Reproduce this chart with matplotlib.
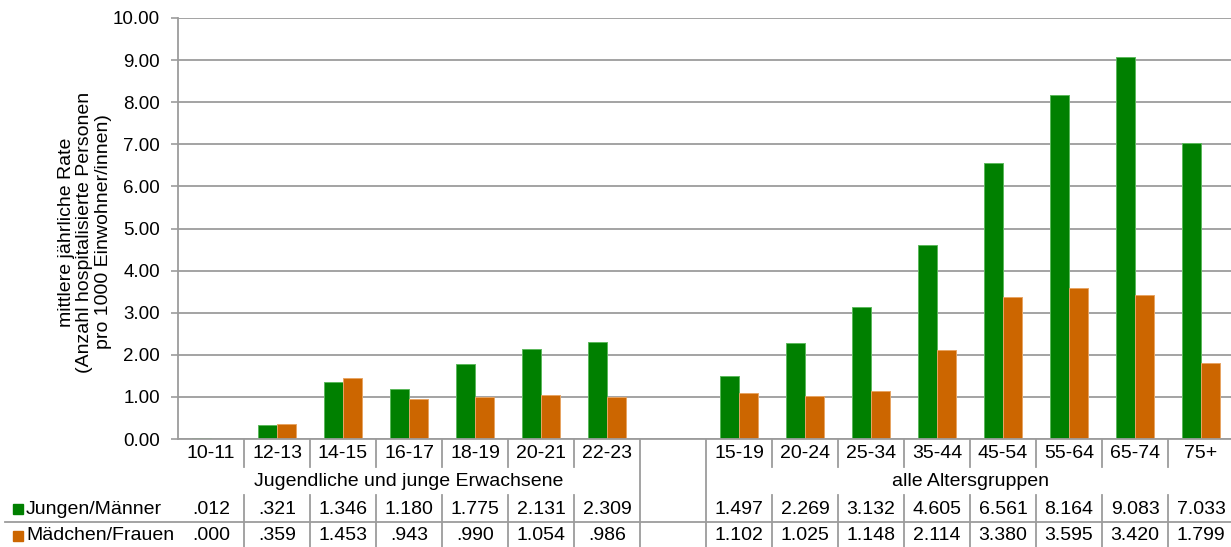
import numpy as np
import matplotlib.pyplot as plt
import matplotlib.transforms as mtransforms
from matplotlib.patches import Rectangle

# Altersgruppen: erste Gruppe Jugendliche, leere Spalte, dann alle Altersgruppen
categories = ['10-11', '12-13', '14-15', '16-17', '18-19', '20-21', '22-23', '',
              '15-19', '20-24', '25-34', '35-44', '45-54', '55-64', '65-74', '75+']
group_labels = ['Jugendliche und junge Erwachsene', 'alle Altersgruppen']
group_spans = [(0, 6), (8, 15)]
series_names = ['Jungen/Männer', 'Mädchen/Frauen']
maenner = [0.012, 0.321, 1.346, 1.180, 1.775, 2.131, 2.309, None,
           1.497, 2.269, 3.132, 4.605, 6.561, 8.164, 9.083, 7.033]
frauen = [0.000, 0.359, 1.453, 0.943, 0.990, 1.054, 0.986, None,
          1.102, 1.025, 1.148, 2.114, 3.380, 3.595, 3.420, 1.799]

GREEN = '#008000'
ORANGE = '#cc6600'
GRID = '#9c9c9c'
W, H = 1231, 547
TS = 14  # Tabellenschrift

plt.rcParams['font.family'] = ['Liberation Sans', 'DejaVu Sans']
plt.rcParams['font.size'] = 13.5

fig = plt.figure(figsize=(W / 100, H / 100), dpi=100)
ax = fig.add_axes([178 / W, 1 - 439 / H, (1234 - 178) / W, (439 - 18) / H])

x = np.arange(len(categories))
m = np.array([np.nan if v is None else v for v in maenner])
f = np.array([np.nan if v is None else v for v in frauen])
bw = 0.29
ax.bar(x - bw / 2, m, bw, color=GREEN, edgecolor='#5cb85c', linewidth=0.7, zorder=3)
ax.bar(x + bw / 2, f, bw, color=ORANGE, edgecolor='#e8a463', linewidth=0.7, zorder=3)

ax.set_xlim(-0.5, len(categories) - 0.5)
ax.set_ylim(0, 10)
ax.set_yticks(np.arange(0, 11, 1))
ax.set_yticklabels([f'{t:.2f}' for t in np.arange(0, 11, 1)])
ax.set_xticks([])
ax.yaxis.grid(True, color=GRID, linewidth=1.3, zorder=0)
ax.tick_params(axis='y', length=5, width=1.2, color=GRID, pad=8)
for s in ['top', 'right']:
    ax.spines[s].set_visible(False)
for s in ['left', 'bottom']:
    ax.spines[s].set_color(GRID)
    ax.spines[s].set_linewidth(1.3)
ax.spines['bottom'].set_zorder(4)

fig.text(85 / W, 1 - 232 / H,
         'mittlere jährliche Rate\n(Anzahl hospitalisierte Personen\npro 1000 Einwohner/innen)',
         rotation=90, ha='center', va='center', multialignment='center',
         linespacing=1.15, fontsize=TS)

# Datentabelle unter der Achse
tr = mtransforms.blended_transform_factory(ax.transData, fig.transFigure)


def fy(py):
    return 1 - py / H


def vline(xd, y0, y1):
    ax.plot([xd, xd], [fy(y0), fy(y1)], transform=tr, color=GRID,
            linewidth=1.3, clip_on=False)


for i, c in enumerate(categories):
    ax.text(i, fy(453), c, transform=tr, ha='center', va='center', fontsize=TS)
    if maenner[i] is not None:
        for val, py in [(maenner[i], 509), (frauen[i], 536)]:
            s = f'{val:.3f}'
            if val < 1:
                s = s.lstrip('0')
            ax.text(i, fy(py), s, transform=tr, ha='center', va='center', fontsize=TS)

for lbl, (a, b) in zip(group_labels, group_spans):
    ax.text((a + b) / 2, fy(481), lbl, transform=tr, ha='center', va='center',
            fontsize=TS)

for k in range(len(categories) - 1):
    xb = k + 0.5
    if k in (6, 7):
        vline(xb, 439, 547)
    else:
        vline(xb, 439, 467)
        vline(xb, 495, 547)

fig.add_artist(plt.Line2D([5 / W, 1], [fy(522), fy(522)], color=GRID,
                          linewidth=1.3, transform=fig.transFigure))

for name, col, py in [(series_names[0], GREEN, 509), (series_names[1], ORANGE, 536)]:
    fig.add_artist(Rectangle((13 / W, fy(py + 5)), 10 / W, 10 / H,
                             color=col, transform=fig.transFigure))
    fig.text(26 / W, fy(py), name, ha='left', va='center', fontsize=TS)

fig.savefig('out.png', dpi=100)
